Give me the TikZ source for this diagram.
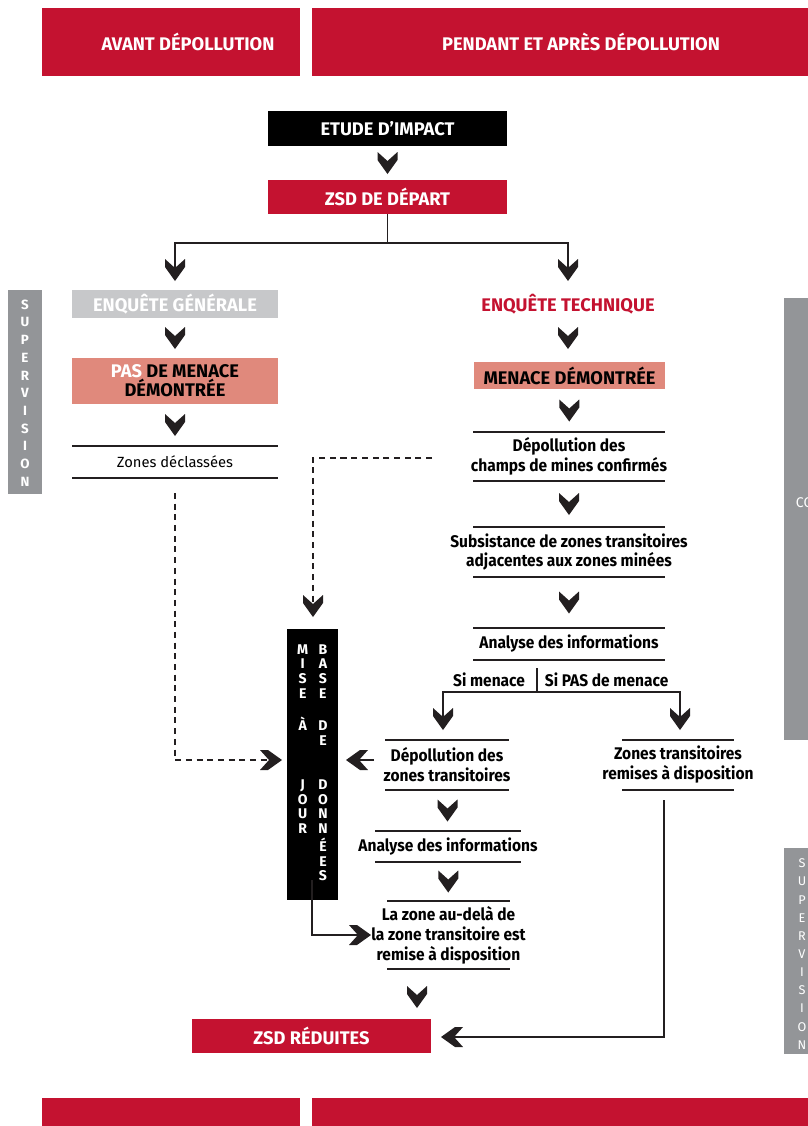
\documentclass[tikz,border=0pt]{standalone}
\usepackage{fontspec}
\setmainfont{Fira Sans}
\newfontfamily\etroite{Fira Sans}[FakeStretch=0.92]
\usetikzlibrary{calc}
\definecolor{rouge}{RGB}{196,18,48}
\definecolor{gris}{RGB}{147,149,152}
\definecolor{grisc}{RGB}{199,200,202}
\definecolor{saumon}{RGB}{224,137,124}
\definecolor{noirt}{RGB}{35,31,32}

\begin{document}
\begin{tikzpicture}[x=0.025cm,y=-0.025cm,
    bande/.style={text=white,font=\bfseries\fontsize{13}{15}\selectfont},
    boite/.style={inner sep=0pt,align=center,font=\bfseries\fontsize{13}{13.5}\selectfont},
    regle/.style={inner sep=0pt,align=center,font=\etroite\bfseries\fontsize{12}{14.2}\selectfont},
    taille/.style 2 args={minimum width=#1*0.025cm,minimum height=#2*0.025cm},
    hauteur/.style={minimum height=#1*0.025cm},
    trait/.style={draw=noirt,line width=1.2pt},
    pointille/.style={trait,dash pattern=on 4.3pt off 3.3pt},
    filet/.style={draw=noirt,line width=1.4pt},
    chevron/.pic={\fill[noirt] (-10,-11) -- (0,-2) -- (10,-11) -- (10,-3) -- (0,11) -- (-10,-3) -- cycle;}]
  \useasboundingbox (0,0) rectangle (808,1126);

  % bandeaux haut et bas
  \fill[rouge] (42,8) rectangle (300,76);
  \fill[rouge] (312,8) rectangle (808,76);
  \fill[rouge] (42,1098) rectangle (300,1126);
  \fill[rouge] (312,1098) rectangle (808,1126);
  \node[bande] (tAvant) at (188,42) {AVANT DÉPOLLUTION};
  \node[bande] (tPendant) at (581,42) {PENDANT ET APRÈS DÉPOLLUTION};

  % barres laterales
  \fill[gris] (8,290) rectangle (42,494);
  \fill[gris] (784,298) rectangle (808,740);
  \fill[gris] (784,848) rectangle (808,1054);
  \node[align=center,text=white,font=\bfseries\fontsize{9.5}{12.6}\selectfont] (supG) at (25,393)
    {S\\U\\P\\E\\R\\V\\I\\S\\I\\O\\N};
  \node[anchor=west,text=white,font=\fontsize{10}{12}\selectfont] (cq) at (791,503) {CQ};
  \node[align=center,text=white,font=\fontsize{9}{12.9}\selectfont] (supD) at (802,954)
    {S\\U\\P\\E\\R\\V\\I\\S\\I\\O\\N};

  % boites
  \node[boite,taille={239}{35},fill=black,text=white] (etude) at (387.5,128.5) {ETUDE D'IMPACT};
  \node[boite,taille={239}{34},fill=rouge,text=white] (zsd) at (387.5,197) {ZSD DE DÉPART};
  \node[boite,taille={206}{28},fill=grisc,text=white] (enqG) at (175,304) {ENQUÊTE GÉNÉRALE};
  \node[boite,text=rouge] (enqT) at (568,304) {ENQUÊTE TECHNIQUE};
  \node[boite,taille={206}{46},fill=saumon] (pasMen) at (175,381) {{\color{white}PAS} DE MENACE\\DÉMONTRÉE};
  \node[boite,taille={191}{27},fill=saumon] (menDem) at (569.5,375.5) {MENACE DÉMONTRÉE};
  \node[regle,hauteur=32,font=\fontsize{10.5}{12}\selectfont] (decl) at (175,462) {Zones déclassées};
  \node[regle,hauteur=49] (depCh) at (569,456.5) {Dépollution des\\champs de mines confirmés};
  \node[regle,hauteur=50] (subs) at (569,552) {Subsistance de zones transitoires\\adjacentes aux zones minées};
  \node[regle,hauteur=32] (ana) at (569,644) {Analyse des informations};
  \node[regle,hauteur=50] (deptr) at (447,765) {Dépollution des\\zones transitoires};
  \node[regle,hauteur=50] (remis) at (678,765) {Zones transitoires\\remises à disposition};
  \node[regle,hauteur=31] (ana2) at (448,846.5) {Analyse des informations};
  \node[regle,hauteur=68] (audela) at (448.5,935) {La zone au-delà de\\la zone transitoire est\\remise à disposition};
  \node[boite,taille={239}{34},fill=rouge,text=white] (zsdR) at (311.5,1036) {ZSD RÉDUITES};
  \node[boite,taille={51}{271},fill=black,text=white,font=\bfseries\fontsize{10}{10.45}\selectfont] (mdb) at (312.5,764.5)
    {\begin{tabular}{@{}c@{\hspace{7pt}}c@{}}
      M&B\\ I&A\\ S&S\\ E&E\\ &\\ À&D\\ &E\\ &\\ &\\ J&D\\ O&O\\ U&N\\ R&N\\ &É\\ &E\\ &S
    \end{tabular}};

  % filets des boites
  \foreach \n/\w in {decl/103,depCh/96,subs/96,ana/96,deptr/62,remis/56,ana2/73,audela/61.5}
    \draw[filet] ($(\n.north)+(-\w,0)$) -- ($(\n.north)+(\w,0)$)
                 ($(\n.south)+(-\w,0)$) -- ($(\n.south)+(\w,0)$);

  % chevrons entre boites
  \pic at ($(etude.south)!0.5!(zsd.north)$) {chevron};
  \pic at ($(enqG.south)!0.5!(pasMen.north)$) {chevron};
  \pic at (568,338) {chevron};
  \pic at ($(pasMen.south)!0.5!(decl.north)$) {chevron};
  \pic at ($(menDem.south)!0.5!(depCh.north)$) {chevron};
  \pic at ($(depCh.south)!0.5!(subs.north)$) {chevron};
  \pic at ($(subs.south)!0.5!(ana.north)$) {chevron};
  \pic at ($(deptr.south)!0.5!(ana2.north)$) {chevron};
  \pic at ($(ana2.south)!0.5!(audela.north)$) {chevron};
  \pic at (417,997) {chevron};

  % liaisons
  \coordinate (chG) at (175,270);
  \coordinate (chT) at (568,270);
  \draw[trait] (zsd.south) -- ++(0,29) -| (chG);
  \draw[trait] (zsd.south) -- ++(0,29) -| (chT);
  \pic at (chG) {chevron};
  \pic at (chT) {chevron};

  \coordinate (branche) at (537,668);
  \coordinate (chM) at (443,719);
  \coordinate (chP) at (680,719);
  \draw[trait] (branche) -- node[regle,left=8pt] (siM) {Si menace}
    node[regle,right=5pt] (siP) {Si PAS de menace} ++(0,24) coordinate (fourche);
  \draw[trait] (fourche) -| (chM);
  \draw[trait] (fourche) -| (chP);
  \pic at (chM) {chevron};
  \pic at (chP) {chevron};

  \coordinate (dA) at (175,493);
  \coordinate (chA) at (271,760);
  \draw[pointille] (dA) |- (chA);
  \pic[rotate=90] at (chA) {chevron};

  \coordinate (dB) at (432,458);
  \coordinate (chB) at (313,606);
  \draw[pointille] (dB) -| (chB);
  \pic at (chB) {chevron};

  \coordinate (dC) at (374,760);
  \coordinate (chC) at (357,760);
  \draw[trait] (dC) -- (chC);
  \pic[rotate=-90] at (chC) {chevron};

  \coordinate (mS) at (312,880);
  \coordinate (chD) at (360,935);
  \draw[trait] (mS) |- (chD);
  \pic[rotate=90] at (chD) {chevron};

  \coordinate (rS) at (664,800);
  \coordinate (chE) at (452,1037);
  \draw[trait] (rS) |- (chE);
  \pic[rotate=-90] at (chE) {chevron};
\end{tikzpicture}
\end{document}
